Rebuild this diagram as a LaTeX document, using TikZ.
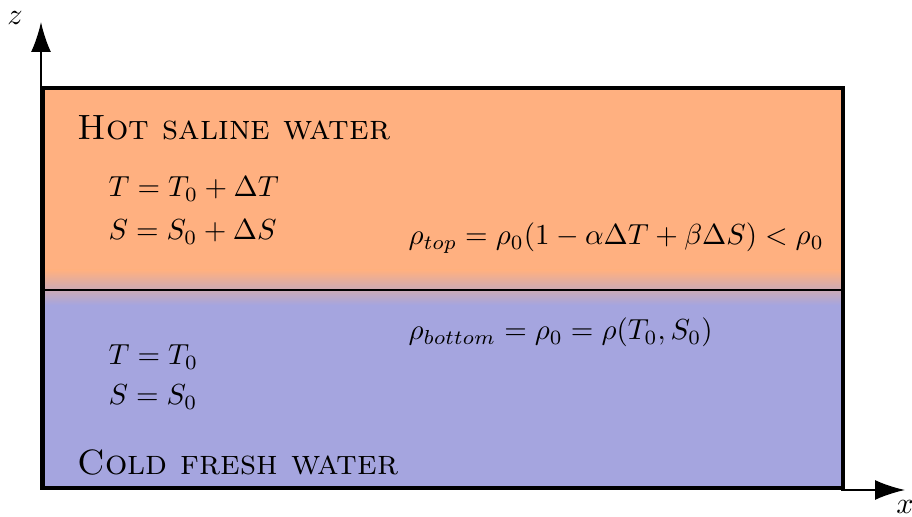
\documentclass[tikz,border=0pt]{standalone}
\usetikzlibrary{arrows.meta}
\definecolor{hot}{RGB}{255,176,128}
\definecolor{cold}{RGB}{165,165,223}
\begin{document}
\begin{tikzpicture}[
  lbl/.style={anchor=base west, inner sep=0pt},
  mlbl/.style={anchor=base west, inner sep=0pt, scale=0.825, transform shape},
  axis/.style={line width=0.6pt, -{Latex[length=3mm,width=2mm]}}
]
\useasboundingbox (-0.41,-0.27) rectangle (8.71,4.90);
% fills
\fill[hot] (0,2.2) rectangle (8,4);
\shade[top color=hot, bottom color=cold] (0,1.85) rectangle (8,2.2);
\fill[cold] (0,0) rectangle (8,1.85);
\draw[line width=0.4pt] (0,2) -- (8,2);
% axes
\coordinate (O) at (0,0);
\coordinate (R) at (8,0);
\coordinate (ztip) at (0,4.68);
\coordinate (xtip) at (8.64,0);
\draw[axis] (O) -- (ztip);
\draw[axis] (R) -- (xtip);
\node[scale=0.86] (zl) at (-0.26,4.72) {$z$};
\node[scale=0.86] (xl) at (8.64,-0.17) {$x$};
\node[draw, line width=1.2pt, minimum width=8cm, minimum height=4cm, inner sep=0pt, anchor=south west] (box) at (0,0) {};
% texts
\node[lbl] (hot) at (0.36,3.50) {\textsc{Hot saline water}};
\node[mlbl] (t1) at (0.67,2.93) {$T=T_0+\Delta T$};
\node[mlbl] (s1) at (0.67,2.50) {$S=S_0+\Delta S$};
\node[mlbl] (rt) at (3.67,2.45) {$\rho_{top}=\rho_0(1-\alpha\Delta T+\beta\Delta S)<\rho_0$};
\node[mlbl] (rb) at (3.67,1.50) {$\rho_{bottom}=\rho_0=\rho(T_0,S_0)$};
\node[mlbl] (t2) at (0.67,1.25) {$T=T_0$};
\node[mlbl] (s2) at (0.67,0.85) {$S=S_0$};
\node[lbl] (cold) at (0.36,0.15) {\textsc{Cold fresh water}};
\end{tikzpicture}
\end{document}
